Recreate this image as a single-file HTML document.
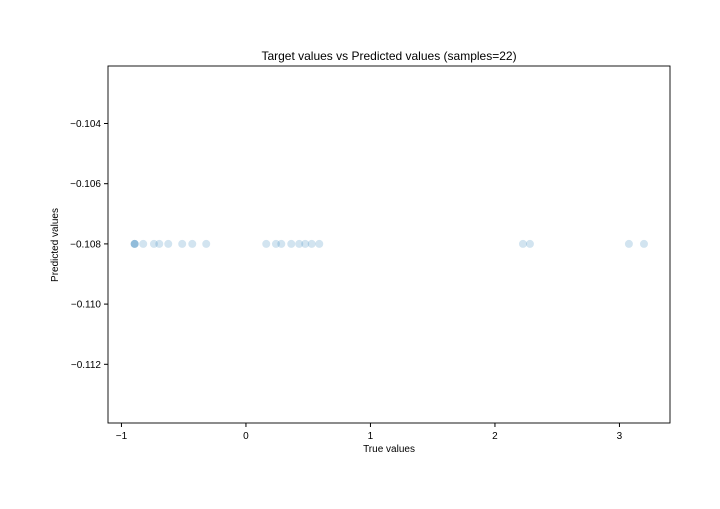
<!DOCTYPE html>
<html><head><meta charset="utf-8"><style>
body{margin:0;background:#fff;font-family:"Liberation Sans","DejaVu Sans",sans-serif}
</style></head><body>
<svg id="chart" width="720" height="504" xmlns="http://www.w3.org/2000/svg" font-family="Liberation Sans, DejaVu Sans, sans-serif">
<rect width="720" height="504" fill="#fff"/>
<text x="389" y="60" font-size="12" text-anchor="middle">Target values vs Predicted values (samples=22)</text>
<g id="marks"></g>
<g id="axes"></g>
<rect x="108" y="66" width="562" height="357" fill="none" stroke="#000" stroke-width="0.9"/>
<text x="389" y="452" font-size="10" text-anchor="middle">True values</text>
<text transform="translate(58,245) rotate(-90)" font-size="10" text-anchor="middle">Predicted values</text>
</svg>
<script>
const trueValues=[-0.894,-0.894,-0.894,-0.825,-0.739,-0.696,-0.624,-0.512,-0.431,-0.319,0.163,0.241,0.284,0.364,0.428,0.476,0.528,0.589,2.225,2.281,3.076,3.197];
const predictedValues=[-0.108,-0.108,-0.108,-0.108,-0.108,-0.108,-0.108,-0.108,-0.108,-0.108,-0.108,-0.108,-0.108,-0.108,-0.108,-0.108,-0.108,-0.108,-0.108,-0.108,-0.108,-0.108];
const xTicks=[-1,0,1,2,3];
const xTickLabels=["\u22121","0","1","2","3"];
const yTicks=[-0.104,-0.106,-0.108,-0.110,-0.112];
const yTickLabels=["\u22120.104","\u22120.106","\u22120.108","\u22120.110","\u22120.112"];
const NS="http://www.w3.org/2000/svg";
const X0=108,X1=670,Y0=66,Y1=423;
const xMin=-1.108,xMax=3.406,yMin=-0.11395,yMax=-0.10209;
const xs=v=>X0+(v-xMin)/(xMax-xMin)*(X1-X0);
const ys=v=>Y1-(v-yMin)/(yMax-yMin)*(Y1-Y0);
const marks=document.getElementById('marks'),axes=document.getElementById('axes');
trueValues.forEach((t,i)=>{
 const c=document.createElementNS(NS,'circle');
 c.setAttribute('cx',xs(t));c.setAttribute('cy',ys(predictedValues[i]));c.setAttribute('r',4);
 c.setAttribute('fill','#1f77b4');c.setAttribute('fill-opacity','0.2');
 
 
 marks.appendChild(c);
});
xTicks.forEach((v,i)=>{
 const x=xs(v);
 const l=document.createElementNS(NS,'line');
 l.setAttribute('x1',x);l.setAttribute('x2',x);l.setAttribute('y1',Y1);l.setAttribute('y2',Y1+4);l.setAttribute('stroke','#000');
 
 
 axes.appendChild(l);
 const t=document.createElementNS(NS,'text');
 t.setAttribute('x',x);t.setAttribute('y',Y1+16);t.setAttribute('font-size','10');t.setAttribute('text-anchor','middle');
 t.textContent=xTickLabels[i];
 
 
 axes.appendChild(t);
});
yTicks.forEach((v,i)=>{
 const y=ys(v);
 const l=document.createElementNS(NS,'line');
 l.setAttribute('x1',X0-4);l.setAttribute('x2',X0);l.setAttribute('y1',y);l.setAttribute('y2',y);l.setAttribute('stroke','#000');
 
 
 axes.appendChild(l);
 const t=document.createElementNS(NS,'text');
 t.setAttribute('x',X0-7);t.setAttribute('y',y+3.5);t.setAttribute('font-size','10');t.setAttribute('text-anchor','end');
 t.textContent=yTickLabels[i];
 
 
 axes.appendChild(t);
});
</script>
</body></html>
